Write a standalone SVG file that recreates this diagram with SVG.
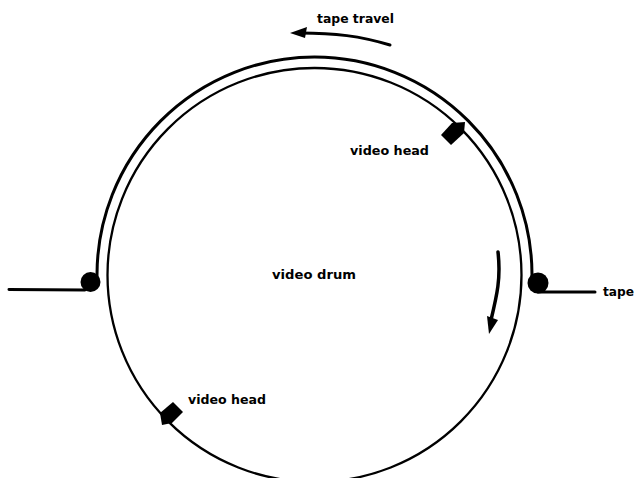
<svg xmlns="http://www.w3.org/2000/svg" width="636" height="478" viewBox="0 0 636 478">
<style>
.l{fill:none;stroke:#000;stroke-linecap:round}
.s{fill:#000;stroke:none}
text{font-family:"DejaVu Sans",sans-serif;font-weight:bold;font-size:12px;fill:#000}
</style>
<rect width="636" height="478" fill="#fff"/>
<g id="connectors">
<path id="tape-path" class="l" stroke-width="3" d="M9 289.500L85 290M97 282L97 275A217.500 218 0 0 1 532 275L532 282M538 292L595 292"/>
<path id="travel-arrow" class="l" stroke-width="3" d="M390 45C360 36 335 33 300 33"/>
<path class="s" d="M290 33L307 27L305 38Z"/>
<path id="rotation-arrow" class="l" stroke-width="3.500" d="M498 252C501 278 497 295 491 320"/>
<path class="s" d="M489 334L487 316L498 320Z"/>
</g>
<g id="video-drum">
<circle class="l" stroke-width="2.300" cx="314.500" cy="275" r="207"/>
<text x="272" y="279" textLength="84" lengthAdjust="spacingAndGlyphs">video drum</text>
</g>
<g id="video-head-top">
<path class="s" d="M441 135L452 123L465 122L464 133L451 145Z"/>
<text x="350" y="155" textLength="79" lengthAdjust="spacingAndGlyphs">video head</text>
</g>
<g id="video-head-bottom">
<path class="s" d="M160 413L173 402L183 412L172 423L162 425Z"/>
<text x="188" y="404" textLength="78" lengthAdjust="spacingAndGlyphs">video head</text>
</g>
<g id="guide-left"><circle class="s" cx="90.500" cy="282" r="10"/></g>
<g id="guide-right"><circle class="s" cx="538" cy="283" r="10.500"/></g>
<g id="label-tape"><text x="603" y="296" textLength="31" lengthAdjust="spacingAndGlyphs">tape</text></g>
<g id="label-tape-travel"><text x="317" y="23" textLength="77" lengthAdjust="spacingAndGlyphs">tape travel</text></g>
</svg>
